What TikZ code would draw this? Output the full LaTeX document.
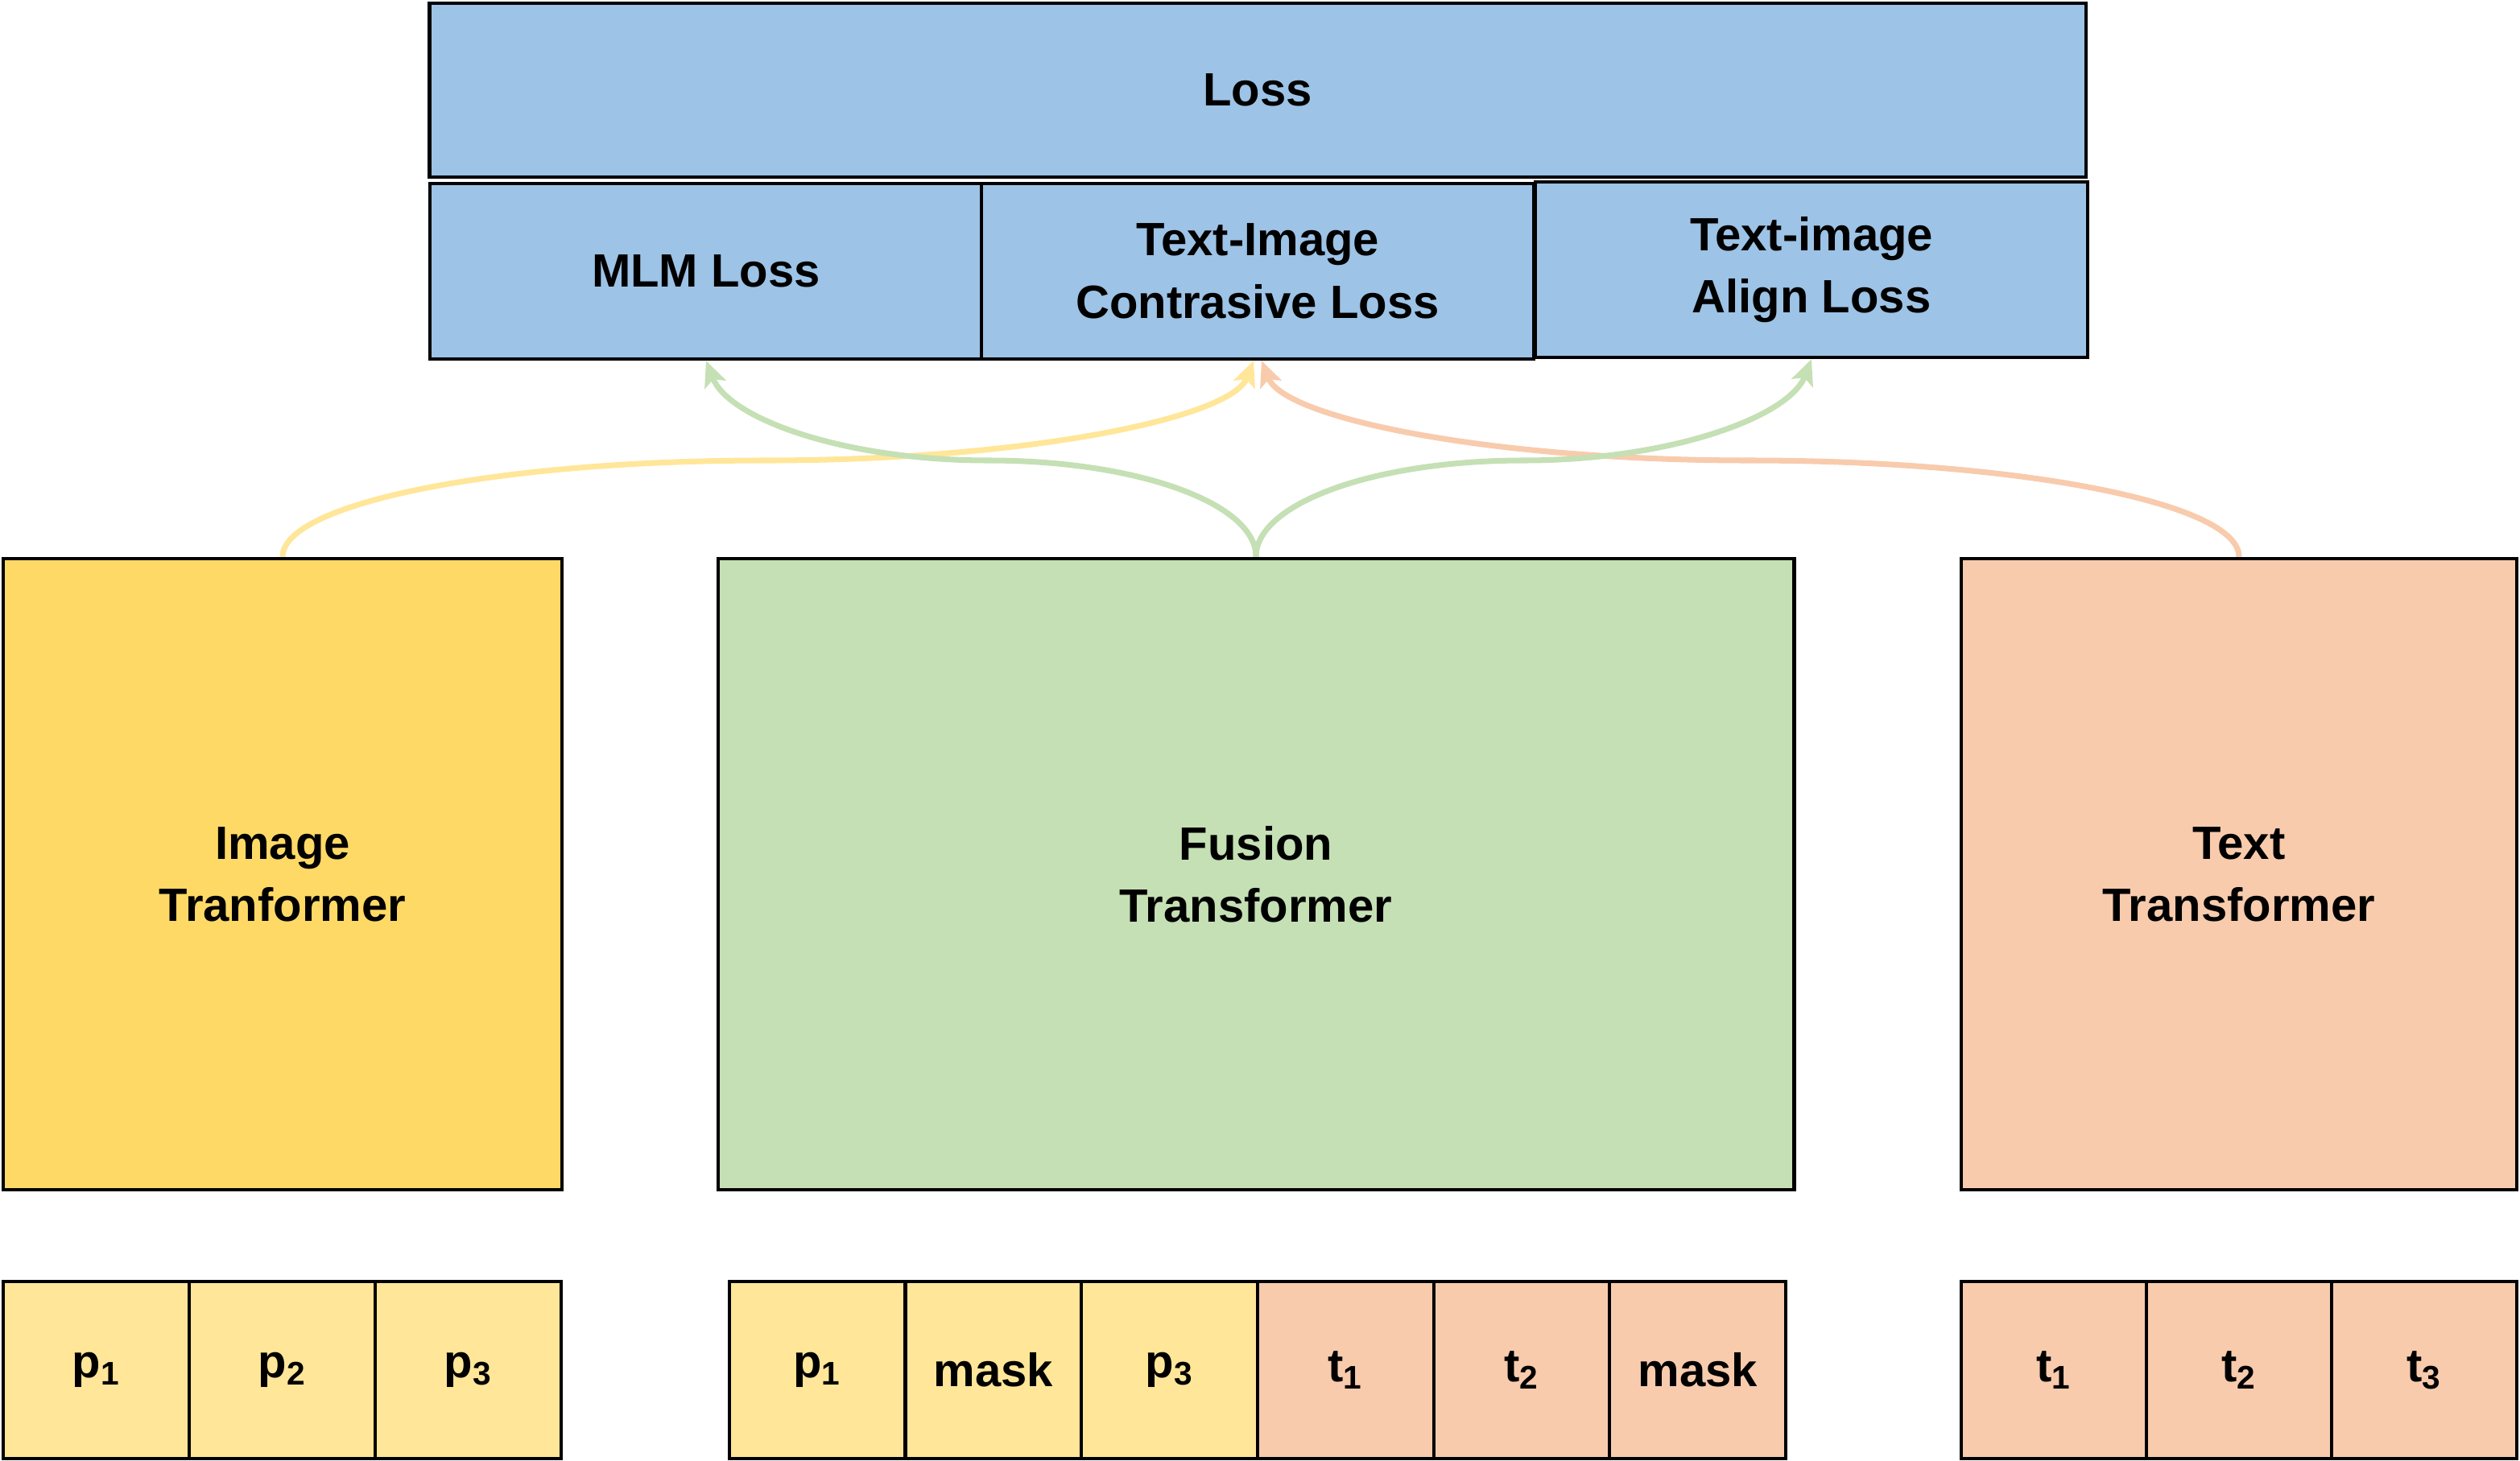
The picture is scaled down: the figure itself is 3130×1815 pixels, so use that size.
\documentclass[tikz,border=0pt]{standalone}
\usepackage{fontspec}
\setmainfont{Liberation Sans}
\usetikzlibrary{arrows.meta}
\definecolor{lossblue}{HTML}{9DC3E6}
\definecolor{imggold}{HTML}{FFD966}
\definecolor{tokgold}{HTML}{FFE699}
\definecolor{fusegreen}{HTML}{C5E0B4}
\definecolor{txtorange}{HTML}{F8CBAD}
\tikzset{
  box/.style={draw=black,line width=1.2pt,align=center,inner sep=0pt,
    font=\fontsize{16.5}{22}\selectfont\bfseries},
  losshead/.style={box,fill=lossblue,minimum width=6.85cm,minimum height=2.18cm},
  encoder/.style={box,minimum height=7.84cm},
  tok/.style={box,minimum height=2.2cm},
  link/.style={line width=2pt,-{Stealth[length=9pt,width=8pt,inset=2pt]}}
}
\begin{document}
\begin{tikzpicture}[x=0.01cm,y=-0.01cm]
\useasboundingbox (0,0) rectangle (3130,1815);
% losses
\node[box,fill=lossblue,minimum width=20.56cm,minimum height=2.16cm] (loss) at (1562,112) {Loss};
\node[losshead] (mlm) at (877,337) {MLM Loss};
\node[losshead] (itc) at (1562,337) {Text-Image\\Contrasive Loss};
\node[losshead] (itm) at (2250,335) {Text-image\\Align Loss};
% encoders
\node[encoder,fill=imggold,minimum width=6.94cm] (img) at (351,1086) {Image\\Tranformer};
\node[encoder,fill=fusegreen,minimum width=13.36cm] (fuse) at (1560,1086) {Fusion\\Transformer};
\node[encoder,fill=txtorange,minimum width=6.90cm] (txt) at (2781,1086) {Text\\Transformer};
% image tokens
\node[tok,fill=tokgold,minimum width=2.31cm] (ip1) at (119.5,1702) {p\textsubscript{1}};
\node[tok,fill=tokgold,minimum width=2.31cm] (ip2) at (350.5,1702) {p\textsubscript{2}};
\node[tok,fill=tokgold,minimum width=2.31cm] (ip3) at (581.5,1702) {p\textsubscript{3}};
% fusion tokens
\node[tok,fill=tokgold,minimum width=2.187cm] (fp1) at (1015.3,1702) {p\textsubscript{1}};
\node[tok,fill=tokgold,minimum width=2.187cm] (fpm) at (1234,1702) {mask};
\node[tok,fill=tokgold,minimum width=2.187cm] (fp3) at (1452.7,1702) {p\textsubscript{3}};
\node[tok,fill=txtorange,minimum width=2.187cm] (ft1) at (1671.3,1702) {t\textsubscript{1}};
\node[tok,fill=txtorange,minimum width=2.187cm] (ft2) at (1890,1702) {t\textsubscript{2}};
\node[tok,fill=txtorange,minimum width=2.187cm] (ftm) at (2108.7,1702) {mask};
% text tokens
\node[tok,fill=txtorange,minimum width=2.30cm] (tt1) at (2551,1702) {t\textsubscript{1}};
\node[tok,fill=txtorange,minimum width=2.30cm] (tt2) at (2781,1702) {t\textsubscript{2}};
\node[tok,fill=txtorange,minimum width=2.30cm] (tt3) at (3011,1702) {t\textsubscript{3}};
% links
\coordinate (ymid) at (950,572);
\coordinate (omid) at (2173,572);
\coordinate (glmid) at (1228,572);
\coordinate (grmid) at (1892,572);
\draw[link,tokgold] (img.north) .. controls +(0,-67) and +(-330,0) .. (ymid)
  .. controls +(320,0) and +(-28,72) .. ([xshift=-0.05cm]itc.south);
\draw[link,txtorange] (txt.north) .. controls +(0,-67) and +(334,0) .. (omid)
  .. controls +(-320,0) and +(28,72) .. ([xshift=0.05cm]itc.south);
\draw[link,fusegreen] (fuse.north) .. controls +(0,-67) and +(183,0) .. (glmid)
  .. controls +(-180,0) and +(28,72) .. (mlm.south);
\draw[link,fusegreen] (fuse.north) .. controls +(0,-67) and +(-183,0) .. (grmid)
  .. controls +(182,0) and +(-28,72) .. (itm.south);
\end{tikzpicture}
\end{document}
